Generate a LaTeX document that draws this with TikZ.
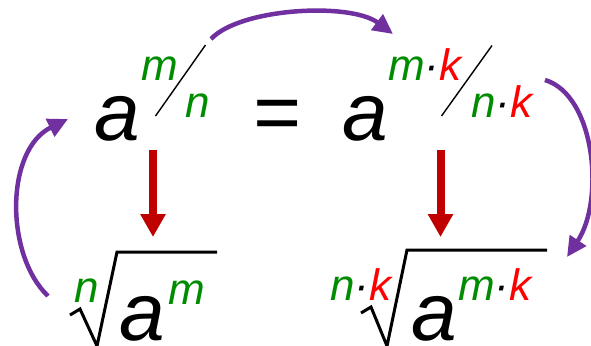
\documentclass[tikz,border=0pt]{standalone}
\usepackage{fontspec}
\setmainfont{Liberation Sans}
\usetikzlibrary{arrows.meta}
\definecolor{grn}{RGB}{0,140,0}
\definecolor{rd}{RGB}{255,0,0}
\definecolor{drd}{RGB}{192,0,0}
\definecolor{purp}{RGB}{112,48,160}
\tikzset{
  big/.style={inner sep=0pt, anchor=base west, font=\fontsize{82}{82}\selectfont\itshape},
  small/.style={inner sep=0pt, anchor=base west, font=\fontsize{44}{44}\selectfont\itshape},
  slash/.style={line width=1.4pt, black},
  radline/.style={line width=3pt, black, line join=miter},
  redarrow/.style={draw=drd, line width=8pt, -{Triangle[length=23pt,width=24pt]}},
  purparrow/.style={draw=purp, line width=4.5pt, -{Triangle[length=20pt,width=19pt]}}
}
\begin{document}
\begin{tikzpicture}[x=1pt,y=-1pt]
\useasboundingbox (0,0) rectangle (591,345);
% top left: a^{m/n}
\node[big] (a1) at (94,140) {a};
\node[small, text=grn] (m1) at (141,80) {m};
\node[small, text=grn] (n1) at (185,117) {n};
\coordinate (s1a) at (155.5,116);
\coordinate (s1b) at (205.5,45);
\draw[slash] (s1a) -- (s1b);
% equals
\node[big] (eq) at (252,140) {=};
% top right
\node[big] (a2) at (342,140) {a};
\node[small] (mk2) at (388,80) {\textcolor{grn}{m}·\textcolor{rd}{k}};
\node[small] (nk2) at (471,117) {\textcolor{grn}{n}·\textcolor{rd}{k}};
\coordinate (s2a) at (441.5,116);
\coordinate (s2b) at (492,45.5);
\draw[slash] (s2a) -- (s2b);
% bottom left radical
\node[small, text=grn] (rn1) at (74,302) {n};
\node[big] (ra1) at (119,340) {a};
\node[small, text=grn] (rm1) at (168,304) {m};
\coordinate (r1a) at (70,315);
\coordinate (r1b) at (80,309);
\coordinate (r1c) at (97,346);
\coordinate (r1d) at (117,252);
\coordinate (r1e) at (217,252);
\draw[radline] (r1a) -- (r1b) -- (r1c) -- (r1d) -- (r1e);
% bottom right radical
\node[small] (rnk2) at (330,300) {\textcolor{grn}{n}·\textcolor{rd}{k}};
\node[big] (ra2) at (411,340) {a};
\node[small] (rmk2) at (458,300) {\textcolor{grn}{m}·\textcolor{rd}{k}};
\coordinate (r2a) at (361,313);
\coordinate (r2b) at (371,307);
\coordinate (r2c) at (387,346);
\coordinate (r2d) at (407,250);
\coordinate (r2e) at (547,250);
\draw[radline] (r2a) -- (r2b) -- (r2c) -- (r2d) -- (r2e);
% red arrows
\coordinate (d1s) at (153,150);
\coordinate (d1e) at (153,237);
\coordinate (d2s) at (440.5,150);
\coordinate (d2e) at (440.5,237);
\draw[redarrow] (d1s) -- (d1e);
\draw[redarrow] (d2s) -- (d2e);
% purple arrows
\coordinate (p1s) at (211,39);
\coordinate (p1e) at (393,34);
\draw[purparrow] (p1s) .. controls (240,8) and (350,2) .. (p1e);
\coordinate (p2s) at (545,80);
\coordinate (p2e) at (567,257);
\draw[purparrow] (p2s) .. controls (595,95) and (605,200) .. (p2e);
\coordinate (p3s) at (48,296);
\coordinate (p3e) at (68,119);
\draw[purparrow] (p3s) .. controls (5,255) and (5,150) .. (p3e);
\end{tikzpicture}
\end{document}
